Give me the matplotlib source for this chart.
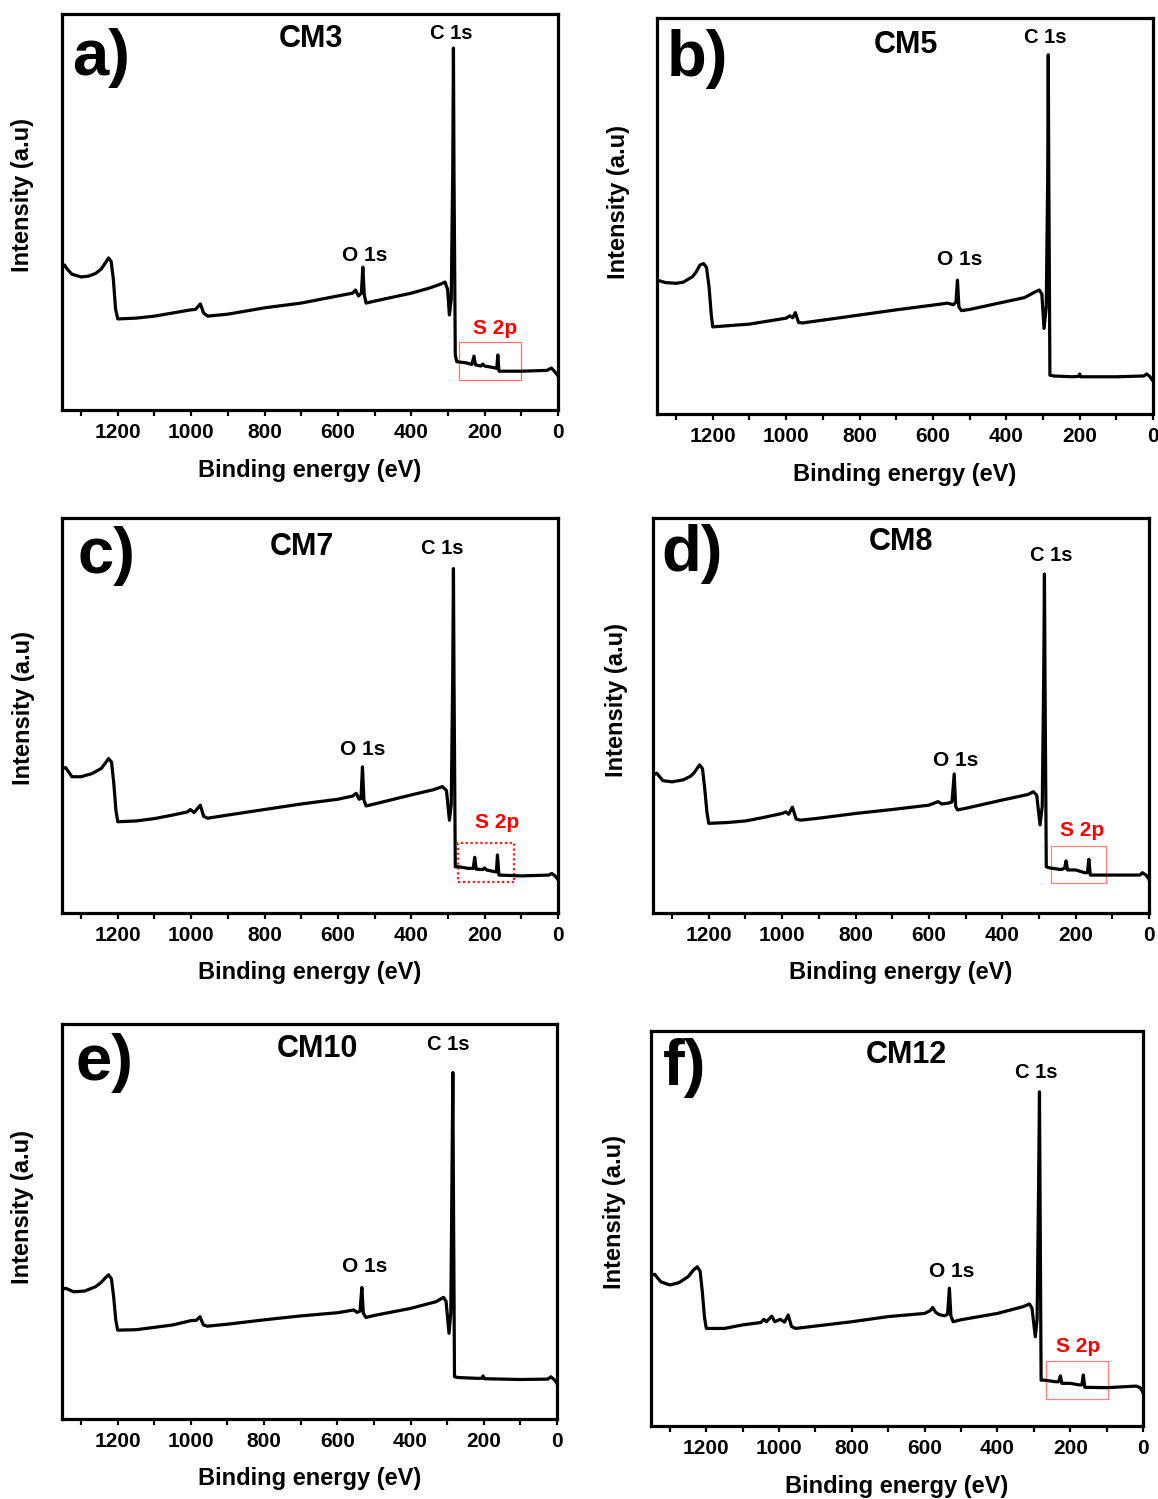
import matplotlib
matplotlib.use('Agg')
import matplotlib.pyplot as plt
from matplotlib.patches import Rectangle

plt.rcParams['font.family'] = ['Liberation Sans', 'DejaVu Sans']
plt.rcParams['font.weight'] = 'bold'

# ---------------- data ----------------
samples = ['CM3', 'CM5', 'CM7', 'CM8', 'CM10', 'CM12']
panel_letters = ['a)', 'b)', 'c)', 'd)', 'e)', 'f)']
xticks_major = [1200, 1000, 800, 600, 400, 200, 0]
xticks_minor = [1300, 1100, 900, 700, 500, 300, 100]

cm3_ev = [1352, 1345, 1338, 1325, 1300, 1280, 1260, 1245, 1235, 1225, 1218, 1212, 1206, 1200,
          1150, 1100, 1050, 1000, 988, 975, 966, 955, 900, 800, 700, 600, 560, 552, 544, 536,
          532, 528, 523, 500, 400, 350, 320, 308, 301, 296, 291, 287, 285, 283.5, 280, 276,
          250, 235, 229, 225, 210, 205, 200, 175, 167, 164, 161, 100, 30, 18, 10, 3, 0]
cm3_int = [35.9, 36.6, 35.6, 34.3, 33.6, 33.8, 34.5, 35.6, 37.0, 38.4, 37.5, 33.0, 25.5, 23.0,
           23.2, 23.7, 24.5, 25.3, 25.4, 26.8, 24.5, 23.7, 24.2, 25.8, 27.0, 28.8, 29.5, 30.3, 28.8, 29.5,
           36.1, 29.0, 27.0, 27.5, 29.5, 30.8, 31.8, 32.3, 30.5, 24.0, 28.0, 60.0, 91.4, 60.0, 13.9, 12.2,
           11.9, 11.5, 13.6, 11.4, 11.1, 11.6, 11.1, 10.7, 10.5, 13.9, 9.8, 9.8, 10.0, 10.6, 9.8, 9.0, 8.6]

cm5_ev = [1352, 1340, 1330, 1300, 1280, 1255, 1245, 1235, 1225, 1217, 1210, 1204, 1200,
          1100, 1000, 990, 982, 975, 966, 955, 900, 800, 700, 600, 560, 545, 537, 533, 529, 522,
          500, 400, 350, 320, 310, 303, 297, 291, 287, 285.5, 284, 281, 270, 220, 203, 200, 196,
          100, 25, 18, 10, 2, 0]
cm5_int = [33.8, 33.5, 33.2, 33.0, 33.3, 34.7, 35.9, 37.6, 38.0, 37.0, 32.0, 25.0, 22.0,
           22.7, 24.2, 24.8, 24.3, 25.6, 23.1, 23.0, 23.7, 25.0, 26.3, 27.5, 28.0, 27.6, 28.2, 33.8, 27.0, 26.1,
           26.4, 28.4, 29.4, 30.9, 31.3, 30.3, 21.6, 27.0, 60.0, 90.7, 60.0, 9.8, 9.6, 9.4, 9.5, 10.1, 9.4,
           9.4, 9.6, 10.1, 9.6, 8.6, 8.4]

cm7_ev = [1352, 1342, 1325, 1300, 1270, 1245, 1235, 1225, 1217, 1211, 1205, 1200,
          1150, 1100, 1050, 1010, 1002, 992, 975, 966, 955, 900, 800, 700, 600, 560, 550, 542, 537,
          533, 529, 523, 500, 400, 340, 315, 304, 296, 291, 287, 285, 283.5, 280, 270, 245, 231,
          227, 223, 205, 200, 195, 180, 168, 165, 161, 100, 25, 17, 8, 2, 0]
cm7_int = [36.6, 36.8, 34.5, 34.5, 35.3, 36.6, 37.8, 39.1, 38.2, 33.0, 26.0, 23.1,
           23.3, 23.9, 24.8, 25.6, 26.2, 25.4, 27.3, 24.5, 24.0, 24.8, 26.2, 27.6, 28.8, 29.6, 30.3, 28.8, 29.0,
           37.0, 28.6, 27.1, 27.6, 29.9, 31.2, 32.0, 31.0, 23.5, 27.5, 60.0, 87.2, 60.0, 11.7, 11.7, 11.3, 11.3,
           14.1, 11.1, 11.0, 11.4, 10.9, 10.6, 10.4, 14.7, 9.6, 9.4, 9.6, 10.0, 9.4, 8.7, 8.4]

cm8_ev = [1352, 1342, 1325, 1300, 1270, 1250, 1240, 1225, 1217, 1211, 1205, 1200,
          1150, 1100, 1050, 1000, 990, 982, 972, 962, 950, 900, 800, 700, 600, 575, 565, 548, 537,
          531, 527, 522, 500, 400, 330, 315, 306, 297, 291, 287, 285, 283.5, 280, 270, 240, 230,
          226, 222, 200, 175, 168, 164, 160, 100, 25, 18, 8, 2, 0]
cm8_int = [34.9, 35.4, 33.5, 33.2, 33.7, 34.6, 35.5, 37.5, 36.5, 31.5, 25.5, 22.7,
           22.9, 23.3, 24.2, 25.2, 25.6, 25.0, 26.8, 23.8, 23.5, 24.0, 25.2, 26.2, 27.3, 28.2, 27.6, 27.8, 28.1,
           35.2, 27.0, 26.1, 26.5, 28.6, 30.0, 30.7, 29.8, 22.3, 27.0, 60.0, 85.8, 60.0, 11.7, 11.4, 11.0, 11.3,
           13.2, 10.9, 10.9, 10.2, 10.2, 13.6, 9.6, 9.6, 9.6, 10.2, 9.6, 8.8, 8.5]

cm10_ev = [1352, 1342, 1320, 1290, 1260, 1245, 1235, 1225, 1217, 1211, 1205, 1200,
           1150, 1100, 1050, 1000, 985, 975, 966, 955, 900, 800, 700, 600, 555, 546, 538,
           533, 529, 522, 500, 400, 330, 310, 303, 295, 290, 287, 284.5, 283, 280, 270, 220,
           205, 202, 198, 100, 25, 17, 8, 2, 0]
cm10_int = [32.8, 33.1, 32.2, 32.4, 33.5, 34.6, 35.6, 36.5, 35.5, 31.0, 25.0, 22.5,
            22.6, 23.2, 23.8, 24.9, 25.0, 25.9, 23.8, 23.5, 24.0, 25.1, 26.1, 26.9, 27.6, 27.0, 27.3,
            33.3, 26.8, 25.7, 26.2, 28.0, 29.7, 30.8, 29.8, 21.7, 27.0, 60.0, 87.7, 60.0, 10.7, 10.5, 10.3,
            10.3, 10.9, 10.2, 10.0, 10.1, 10.7, 10.0, 9.3, 9.0]

cm12_ev = [1352, 1342, 1325, 1300, 1275, 1250, 1235, 1225, 1217, 1211, 1205, 1200,
           1150, 1100, 1050, 1042, 1035, 1020, 1012, 997, 985, 975, 966, 955, 900, 800, 700, 600,
           585, 578, 570, 560, 545, 537, 532, 528, 522, 500, 400, 330, 312, 305, 296, 291, 287,
           284.5, 283, 280, 270, 240, 232, 227, 223, 200, 175, 168, 164, 160, 100, 40, 18, 8, 2, 0]
cm12_int = [38.2, 38.4, 36.5, 35.7, 36.3, 37.8, 39.5, 40.3, 39.2, 34.0, 27.5, 24.7,
            24.7, 25.6, 26.2, 27.0, 26.4, 27.8, 26.4, 27.0, 26.3, 28.1, 25.2, 24.7, 25.3, 26.4, 27.7, 28.5,
            29.2, 30.0, 28.8, 28.2, 27.9, 28.3, 34.9, 27.9, 26.4, 26.9, 28.5, 30.2, 30.9, 29.8, 22.6, 27.0, 60.0,
            84.6, 60.0, 11.6, 11.6, 11.2, 11.2, 12.7, 10.8, 10.8, 10.4, 10.4, 12.9, 9.8, 9.7, 10.0, 10.1, 9.7, 8.9, 8.4]

spectra_ev = [cm3_ev, cm5_ev, cm7_ev, cm8_ev, cm10_ev, cm12_ev]
spectra_int = [cm3_int, cm5_int, cm7_int, cm8_int, cm10_int, cm12_int]

# ---------------- layout / style ----------------
W, H = 1158, 1499
fig = plt.figure(figsize=(W / 100, H / 100), dpi=100)

# axes boxes in pixels: left, top, right, bottom
boxes = [(62, 14, 558, 410), (657, 18, 1153, 414),
         (62, 518, 558, 913), (653, 518, 1149, 913),
         (62, 1024, 557, 1419), (651, 1031, 1143, 1426)]
# annotation positions (eV, intensity)
title_pos = [(673, 93.6), (673, 93.1), (698, 92.6), (676, 93.8), (654, 93.6), (651, 93.8)]
c1s_pos = [(292, 95.0), (294, 95.2), (316, 92.2), (267, 90.6), (297, 94.7), (294, 89.6)]
o1s_pos = [(526, 38.9), (526, 38.9), (532, 41.3), (526, 38.7), (526, 38.5), (527, 39.0)]
s2p_pos = [(172, 20.5), None, (166, 23.0), (183, 21.0), None, (179, 20.0)]
s2p_box = [(101, 270, 7.6, 17.2), None, (119, 272, 7.9, 17.8), (118, 268, 7.6, 17.0), None, (96, 267, 6.8, 16.5)]
box_style = [dict(ls='-', lw=0.9, ec='#ff7070'), None, dict(ls=(0, (1, 1.2)), lw=1.6, ec='#ff1a1a'),
             dict(ls='-', lw=0.9, ec='#ff8080'), None, dict(ls='-', lw=0.9, ec='#ff8080')]
letter_off = [(10, 44), (10, 41), (16, 38), (8, 36), (13, 39), (12, 37)]
ylabel_center = [0.543, 0.535, 0.519, 0.54, 0.537, 0.542]
ylabel_off = [39, 39, 38, 37, 39, 36]

for i in range(6):
    l, t, r, b = boxes[i]
    wpx, hpx = r - l, b - t
    ax = fig.add_axes([l / W, (H - b) / H, wpx / W, hpx / H])
    ax.plot(spectra_ev[i], spectra_int[i], color='black', lw=2.3, solid_joinstyle='round')
    ax.set_xlim(1352, 0)
    ax.set_ylim(0, 100)
    ax.set_yticks([])
    ax.set_xticks(xticks_major)
    ax.set_xticks(xticks_minor, minor=True)
    ax.set_xticklabels([str(v) for v in xticks_major])
    ax.tick_params(axis='x', which='both', direction='out', length=4.5, width=1.6,
                   labelsize=15, pad=5)
    for lab in ax.get_xticklabels():
        lab.set_fontweight('bold')
    for sp in ax.spines.values():
        sp.set_linewidth(2.3)

    ax.set_xlabel('Binding energy (eV)', fontsize=17, fontweight='bold', va='center')
    ax.xaxis.set_label_coords(0.5, -60 / hpx)
    ax.set_ylabel('Intensity (a.u)', fontsize=17, fontweight='bold', va='center')
    ax.yaxis.set_label_coords(-ylabel_off[i] / wpx, ylabel_center[i])

    ax.text(title_pos[i][0], title_pos[i][1], samples[i], fontsize=22, fontweight='bold',
            ha='center', va='center')
    ax.text(c1s_pos[i][0], c1s_pos[i][1], 'C 1s', fontsize=14.5, fontweight='bold',
            ha='center', va='center')
    ax.text(o1s_pos[i][0], o1s_pos[i][1], 'O 1s', fontsize=15, fontweight='bold',
            ha='center', va='center')
    if s2p_pos[i] is not None:
        ax.text(s2p_pos[i][0], s2p_pos[i][1], 'S 2p', fontsize=15, fontweight='bold',
                color='#ff0000', ha='center', va='center')
        x0, x1, y0, y1 = s2p_box[i]
        ax.add_patch(Rectangle((x0, y0), x1 - x0, y1 - y0, fill=False, **box_style[i]))
    ax.text(letter_off[i][0] / wpx, 1 - letter_off[i][1] / hpx, panel_letters[i],
            transform=ax.transAxes, fontsize=47, fontweight='bold', ha='left', va='center')

fig.savefig('out.png', dpi=100)
